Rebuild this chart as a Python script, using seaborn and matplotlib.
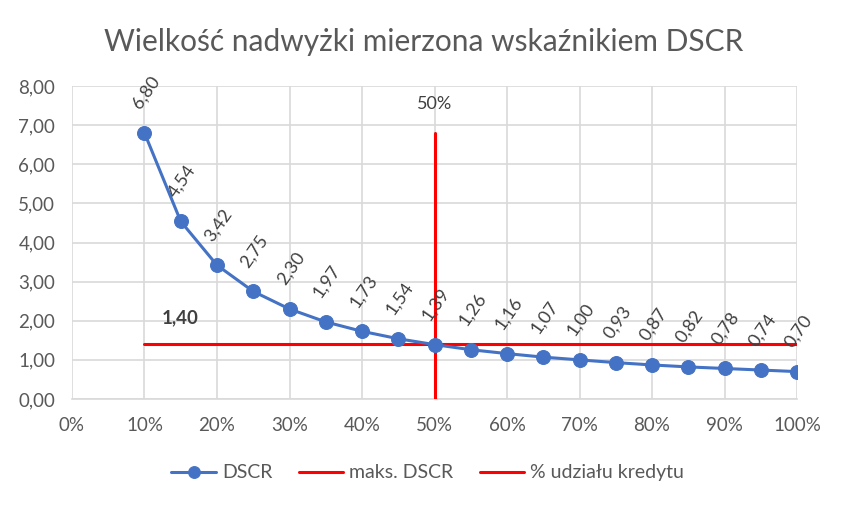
import matplotlib
matplotlib.use("Agg")
import pandas as pd
import matplotlib.pyplot as plt
import seaborn as sns
from matplotlib.ticker import FuncFormatter, MultipleLocator

# dane
udzial = [0.10, 0.15, 0.20, 0.25, 0.30, 0.35, 0.40, 0.45, 0.50, 0.55,
          0.60, 0.65, 0.70, 0.75, 0.80, 0.85, 0.90, 0.95, 1.00]
dscr = [6.80, 4.54, 3.42, 2.75, 2.30, 1.97, 1.73, 1.54, 1.39, 1.26,
        1.16, 1.07, 1.00, 0.93, 0.87, 0.82, 0.78, 0.74, 0.70]
maks_dscr = 1.40
maks_x = [0.10, 1.00]
udzial_kredytu = 0.50
udzial_y = [0.0, 6.80]

df = pd.DataFrame({"udzial": udzial, "DSCR": dscr})

sns.set_theme(style="white")
plt.rcParams["font.family"] = ["Lato", "DejaVu Sans"]

BLUE = "#4472C4"
RED = "#FF0000"
GREY = "#595959"
GRID = "#D9D9D9"

fig = plt.figure(figsize=(8.47, 5.08), dpi=100)
ax = fig.add_axes([0.085, 0.2146, 0.856, 0.616])

sns.lineplot(data=df, x="udzial", y="DSCR", ax=ax, color=BLUE, lw=2.2,
             marker="o", markersize=10, markeredgecolor=BLUE, label="DSCR",
             zorder=4)
ax.plot(maks_x, [maks_dscr, maks_dscr], color=RED, lw=2.2, label="maks. DSCR", zorder=3)
ax.plot([udzial_kredytu, udzial_kredytu], udzial_y, color=RED, lw=2.2,
        label="% udziału kredytu", zorder=3)

# etykiety danych
for x, y in zip(udzial, dscr):
    ax.annotate(f"{y:.2f}".replace(".", ","), (x, y), xytext=(1, 29),
                textcoords="offset points", ha="center", va="center",
                rotation=55, fontsize=13, color="#404040", zorder=5)

ax.text(udzial_kredytu, 7.55, "50%", ha="center", va="center", fontsize=13, color="#404040")
ax.text(0.149, 2.07, "1,40", ha="center", va="center", fontsize=13.5,
        fontweight="bold", color="#404040")

ax.set_xlim(0, 1)
ax.set_ylim(0, 8)
ax.xaxis.set_major_locator(MultipleLocator(0.1))
ax.yaxis.set_major_locator(MultipleLocator(1))
ax.xaxis.set_major_formatter(FuncFormatter(lambda v, p: f"{v*100:.0f}%"))
ax.yaxis.set_major_formatter(FuncFormatter(lambda v, p: f"{v:.2f}".replace(".", ",")))
ax.tick_params(axis="both", labelsize=13.5, colors=GREY, length=0)
ax.tick_params(axis="x", pad=13)
ax.tick_params(axis="y", pad=12)
ax.grid(True, color=GRID, lw=1.2)
ax.set_axisbelow(True)
for s in ["top", "right", "left"]:
    ax.spines[s].set_visible(False)
ax.spines["bottom"].set_color(GRID)
ax.spines["bottom"].set_linewidth(1.2)
ax.set_xlabel("")
ax.set_ylabel("")

fig.suptitle("Wielkość nadwyżki mierzona wskaźnikiem DSCR", fontsize=21.5,
             color=GREY, x=0.5, y=0.918, va="center")

handles, labels = ax.get_legend_handles_labels()
if ax.legend_:
    ax.legend_.remove()
fig.legend(handles, labels, loc="center", bbox_to_anchor=(0.505, 0.069), ncol=3,
           frameon=False, fontsize=14, labelcolor=GREY, handlelength=2.3,
           columnspacing=1.35, handletextpad=0.3, markerscale=0.85)

fig.savefig("out.png", dpi=100)
